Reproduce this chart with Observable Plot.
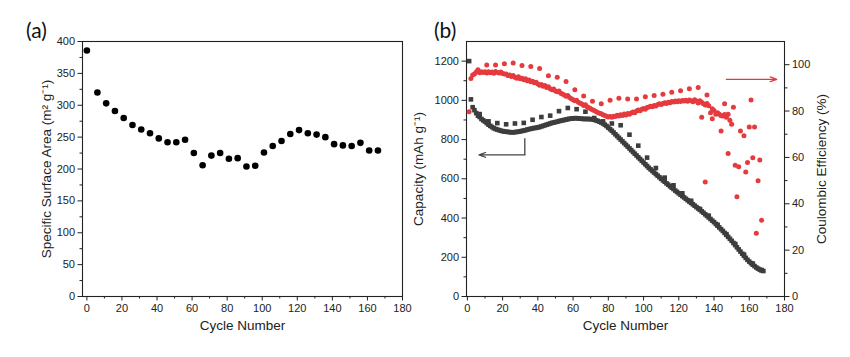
<!DOCTYPE html>
<html><head><meta charset="utf-8">
<script src="https://cdn.jsdelivr.net/npm/d3@7"></script>
<script src="https://cdn.jsdelivr.net/npm/@observablehq/plot@0.6"></script>
<style>
body{margin:0;background:#fff;}
#wrap{position:relative;width:850px;height:357px;background:#fff;}
#a,#b{position:absolute;top:0;}
#a{left:0;} #b{left:425px;}
.tag{position:absolute;font-family:Lato,"Open Sans",sans-serif;font-size:21px;line-height:21px;color:#111;top:19px;}
</style>
</head><body>
<div id="wrap">
  <div id="a"></div><div id="b"></div>
  <div class="tag" style="left:26px">(a)</div>
  <div class="tag" style="left:434px">(b)</div>
</div>
<script>
// ---------- Panel (a): specific surface area ----------
const cyclesA = [0,6,11,16,21,26,31,36,41,46,51,56,61,66,71,76,81,86,91,96,101,106,111,116,121,126,131,136,141,146,151,156,161,166];
const ssaA = [386,320,303,291,280,269,262,256,248,242,242,246,225,206,221,225,216,217,204,205,226,236,244,255,261,256,254,250,239,237,236,241,229,229];
const ticksA_x = [0,20,40,60,80,100,120,140,160,180];
const minorA_x = [10,30,50,70,90,110,130,150,170];
const ticksA_y = [0,50,100,150,200,250,300,350,400];
const minorA_y = [25,75,125,175,225,275,325,375];

// ---------- Panel (b): capacity & coulombic efficiency ----------
// charge capacity (every 5 cycles)
const chargeCycles = [1,2,7,12,17,22,27,32,37,42,47,52,57,62,67,72,77,82,87,92,97,102,107,112,117,122,127,132,137,142,147,152,157,162,167];
const chargeCap = [1200,1005,930,893,884,878,882,885,901,915,922,945,961,955,942,910,893,882,873,825,769,708,655,606,567,526,488,446,412,366,318,268,214,168,135];
// discharge capacity (every cycle, starting at cycle 3)
const dischargeStart = 3;
const dischargeCap = [965,950,935,922,915,905,898,892,884,876,
870,864,858,854,851,848,845,843,841,840,
839,838,837,837,838,839,840,842,844,846,
848,851,853,855,857,859,860,862,864,867,
870,873,876,879,882,885,887,889,891,894,
896,898,900,902,904,906,907,908,909,909,
908,907,906,905,905,905,905,904,903,901,
898,895,891,887,882,876,869,861,853,845,
836,827,818,809,800,791,782,773,764,755,
746,737,728,719,710,701,692,683,674,665,
656,648,640,632,624,616,608,600,592,585,
577,570,562,555,548,540,533,526,519,512,
505,498,491,484,477,470,463,456,449,442,
434,427,419,411,403,395,387,379,370,361,
352,343,334,324,314,304,294,284,273,262,
251,240,229,218,207,197,187,178,170,162,
155,148,142,137,133,130];
// coulombic efficiency, every cycle (starting at cycle 2)
const ceStart = 2;
const ceDense = [94.0,95.5,96.0,96.8,97.2,96.5,97.0,96.6,96.9,96.4,
97.0,96.5,96.8,96.3,97.1,96.6,96.4,96.8,96.2,96.0,
96.0,95.3,95.6,94.9,95.3,94.6,94.2,94.8,93.9,94.2,
93.5,93.9,93.1,93.4,92.6,92.9,92.2,92.4,91.7,91.1,
91.5,90.7,91.0,90.2,90.5,89.6,89.2,89.5,88.7,88.3,
88.6,87.7,87.3,86.9,86.4,86.7,85.8,85.3,84.9,84.4,
84.7,83.8,83.4,83.0,82.4,82.7,81.8,81.4,81.0,80.6,
80.2,79.8,79.4,79.1,78.8,78.4,78.1,77.8,77.4,77.6,
77.3,77.8,77.7,78.2,77.9,78.4,78.1,78.7,78.3,78.9,
78.6,79.2,79.6,79.3,80.0,80.4,80.1,80.8,81.1,80.8,
81.5,81.7,82.1,81.8,82.4,82.2,82.8,83.1,82.8,83.3,
83.6,83.3,83.8,83.6,84.1,83.9,84.3,84.0,84.4,84.1,
84.5,84.3,84.7,84.2,84.8,84.4,84.0,84.9,84.3,83.5,
84.4,83.8,83.1,82.6,83.3,82.3,79.3,81.0,80.2,78.6,
79.3,78.6,78.0,77.9,78.5,77.3,78.6,76.0];
// coulombic efficiency, second series (every 5 cycles)
const ceSparseCycles = [1,6,11,16,21,26,31,36,41,46,51,56,61,66,71,76,81,86,91,96,101,106,111,116,121,126,131,136,146,151,161];
const ceSparse = [79.7,97.8,99.9,99.9,100.4,100.7,99.7,99.2,98.4,95.2,94.6,92.7,89.2,86.5,84.2,83.1,84.7,85.5,85.2,85.2,86.2,86.7,87.2,88.1,88.8,89.6,90.2,86.9,83.2,81.6,84.8];
// scattered late-cycle efficiency values
const ceTailCycles = [133,135,139,144,148,150,152,153,154,155,157,158,159,160,162,163,164,165,166,167];
const ceTail = [77.3,49.4,76.7,71.4,61.7,74.3,56.6,43.0,56.0,71.4,69.3,53.7,57.8,73.1,59.9,73.1,27.3,49.9,58.9,32.9];

const ticksB_x = [0,20,40,60,80,100,120,140,160,180];
const minorB_x = [10,30,50,70,90,110,130,150,170];
const ticksB_y = [0,200,400,600,800,1000,1200];
const minorB_y = [100,300,500,700,900,1100];
const ticksB_r = [0,20,40,60,80,100];
const minorB_r = [10,30,50,70,90];

// annotation arrows (data coordinates)
const capArrow = {x0: 32.6, yTop: 807, y: 722, xEnd: 6.6};
const ceArrow = {x0: 147, xEnd: 175.6, y: 93.7};

const FONT = "'Liberation Sans', Arial, sans-serif";
const TXT = "#222";

const dataA = cyclesA.map((c, i) => ({c, v: ssaA[i]}));

const plotA = Plot.plot({
  width: 425, height: 357,
  marginLeft: 82, marginRight: 23, marginTop: 41, marginBottom: 61,
  x: {domain: [-2.5, 180]},
  y: {domain: [0, 400]},
  style: {fontFamily: FONT, fontSize: "11px", color: TXT, background: "white", overflow: "visible"},
  marks: [
    Plot.axisX({ticks: minorA_x, tickSize: 2.5, tickFormat: () => "", label: null}),
    Plot.axisX({ticks: ticksA_x, tickSize: 4.5, tickPadding: 3, tickFormat: d => String(d), label: null, fontSize: 11}),
    Plot.axisY({ticks: minorA_y, tickSize: 2.5, tickFormat: () => "", label: null}),
    Plot.axisY({ticks: ticksA_y, tickSize: 4.5, tickPadding: 3, tickFormat: d => String(d), label: null, fontSize: 11}),
    Plot.frame({stroke: "#222", strokeWidth: 1.1}),
    Plot.dot(dataA, {x: "c", y: "v", r: 3.3, fill: "#000"}),
    Plot.text(["Cycle Number"], {text: d => d, frameAnchor: "bottom", textAnchor: "middle", dy: 33, fontSize: 13.5, fill: TXT}),
    Plot.text(["Specific Surface Area (m² g⁻¹)"], {text: d => d, frameAnchor: "left", textAnchor: "middle", dx: -36, rotate: -90, fontSize: 13.5, fill: TXT})
  ]
});
document.getElementById("a").appendChild(plotA);

const k = 1300 / 110;
const chargeData = chargeCycles.map((c, i) => ({c, v: chargeCap[i]}));
const dischargeData = dischargeCap.map((v, i) => ({c: dischargeStart + i, v}));
const ceDenseData = ceDense.map((v, i) => ({c: ceStart + i, v}));
const ceSparseData = ceSparseCycles.map((c, i) => ({c, v: ceSparse[i]}));
const ceTailData = ceTailCycles.map((c, i) => ({c, v: ceTail[i]}));

const BLK = "#3d3d3d";
const RED = "#e53a3e";

const plotB = Plot.plot({
  width: 425, height: 357,
  marginLeft: 41, marginRight: 66, marginTop: 41, marginBottom: 61,
  x: {domain: [-0.5, 180]},
  y: {domain: [0, 1300]},
  style: {fontFamily: FONT, fontSize: "11px", color: TXT, background: "white", overflow: "visible"},
  marks: [
    Plot.axisX({ticks: minorB_x, tickSize: 2.5, tickFormat: () => "", label: null}),
    Plot.axisX({ticks: ticksB_x, tickSize: 4.5, tickPadding: 3, tickFormat: d => String(d), label: null, fontSize: 11}),
    Plot.axisY({ticks: minorB_y, tickSize: 2.5, tickFormat: () => "", label: null}),
    Plot.axisY({ticks: ticksB_y, tickSize: 4.5, tickPadding: 3, tickFormat: d => String(d), label: null, fontSize: 11}),
    Plot.axisY({anchor: "right", ticks: minorB_r.map(v => v * k), tickSize: 2.5, tickFormat: () => "", label: null}),
    Plot.axisY({anchor: "right", ticks: ticksB_r.map(v => v * k), tickSize: 4.5, tickPadding: 3, tickFormat: v => String(Math.round(v / k)), label: null, fontSize: 11}),
    Plot.frame({stroke: "#222", strokeWidth: 1.1}),
    Plot.dot(dischargeData, {x: "c", y: "v", symbol: "square", r: 2.6, fill: BLK}),
    Plot.dot(chargeData, {x: "c", y: "v", symbol: "square", r: 2.6, fill: BLK}),
    Plot.dot(ceDenseData, {x: "c", y: d => d.v * k, r: 2.5, fill: RED}),
    Plot.dot(ceSparseData, {x: "c", y: d => d.v * k, r: 2.5, fill: RED}),
    Plot.dot(ceTailData, {x: "c", y: d => d.v * k, r: 2.5, fill: RED}),
    Plot.link([capArrow], {x1: "x0", y1: "yTop", x2: "x0", y2: "y", stroke: "#444", strokeWidth: 1.3}),
    Plot.arrow([capArrow], {x1: "x0", y1: "y", x2: "xEnd", y2: "y", stroke: "#444", strokeWidth: 1.3, headLength: 8, headAngle: 40}),
    Plot.arrow([ceArrow], {x1: "x0", y1: d => d.y * k, x2: "xEnd", y2: d => d.y * k, stroke: RED, strokeWidth: 1.3, headLength: 8, headAngle: 40}),
    Plot.text(["Cycle Number"], {text: d => d, frameAnchor: "bottom", textAnchor: "middle", dy: 33, fontSize: 13.5, fill: TXT}),
    Plot.text(["Capacity (mAh g⁻¹)"], {text: d => d, frameAnchor: "left", textAnchor: "middle", dx: -48, rotate: -90, fontSize: 13.5, fill: TXT}),
    Plot.text(["Coulombic Efficiency (%)"], {text: d => d, frameAnchor: "right", textAnchor: "middle", dx: 37, rotate: -90, fontSize: 13.5, fill: TXT})
  ]
});
document.getElementById("b").appendChild(plotB);
</script>
</body></html>
